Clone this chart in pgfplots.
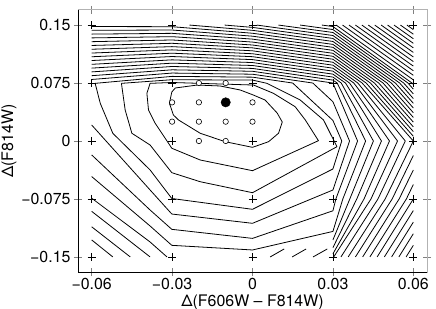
\documentclass[border=0pt]{standalone}
\usepackage{fontspec}
\setmainfont{TeX Gyre Heros}
\usepackage{pgfplots}
\pgfplotsset{compat=1.18}
\pgfplotsset{cl/.style={black, line width=0.8pt, no markers, line join=round}}
\begin{document}
\begin{tikzpicture}
\useasboundingbox (-78bp,-37bp) rectangle (358bp,272bp);
\begin{axis}[name=ax, at={(0,0)}, anchor=south west,
  scale only axis, width=349bp, height=262bp,
  xmin=-0.0651, xmax=0.0651, ymin=-0.1695, ymax=0.1695,
  scaled x ticks=false, scaled y ticks=false,
  xtick={-0.06,-0.03,0,0.03,0.06}, xticklabels={−0.06,−0.03,0,0.03,0.06},
  ytick={-0.15,-0.075,0,0.075,0.15}, yticklabels={−0.15,−0.075,0,0.075,0.15},
  tick align=center, major tick length=8bp, tick style={gray, line width=0.6pt},
  axis line style={gray!60, line width=1pt},
  ticklabel style={font=\fontsize{16}{18}\selectfont},
  label style={font=\fontsize{16}{18}\selectfont},
  xticklabel style={yshift=1bp},
  xlabel={Δ(F606W – F814W)}, ylabel={Δ(F814W)},
  xlabel style={yshift=2bp}, ylabel style={yshift=-2bp},
]
% c1
\addplot[cl] coordinates {(-0.0301,0.0634) (-0.0288,0.0686) (-0.0206,0.0724) (-0.0121,0.0712) (-0.0046,0.0660) (0.0003,0.0595) (0.0047,0.0530) (0.0092,0.0362) (0.0111,0.0246) (0.0097,0.0100) (0.0060,-0.0009) (0,-0.0082) (-0.0102,-0.0009) (-0.0195,0.0100) (-0.0276,0.0272) (-0.0295,0.0336) (-0.0310,0.0488) (-0.0301,0.0634)};
% c2
\addplot[cl] coordinates {(-0.0382,0.0746) (-0.0394,0.0617) (-0.0388,0.0401) (-0.0363,0.0229) (-0.0301,-0.0094) (-0.0195,-0.0246) (0,-0.0384) (0.0246,0.0004) (0.0197,0.0272) (0.0159,0.0444) (0.0078,0.0617) (0.0004,0.0724) (-0.03,0.0757) (-0.0382,0.0746)};
% c3
\addplot[cl] coordinates {(-0.0489,0.0746) (-0.0475,0.0401) (-0.045,0.01) (-0.0382,-0.0052) (-0.0301,-0.041) (-0.0195,-0.0527) (0,-0.0669) (0.0315,-0.0074) (0.0265,0.0272) (0.0178,0.053) (0.0054,0.0746) (0,0.0788) (-0.03,0.0793) (-0.0489,0.0746)};
% c4
\addplot[cl] coordinates {(-0.0587,0.0746) (-0.03,0.0836) (0,0.0826) (0.015,0.075) (0.03,0.0266) (0.0333,0) (0.03,-0.0362) (0,-0.0884) (-0.0301,-0.0744) (-0.0382,-0.0375) (-0.0521,0.0099) (-0.0568,0.0488) (-0.0587,0.0746)};
% c5
\addplot[cl] coordinates {(-0.06,0.0207) (-0.0382,-0.0634) (-0.0301,-0.0945) (0,-0.1065) (0.03,-0.0634) (0.0362,0) (0.03,0.0508) (0.0225,0.075) (0,0.0864) (-0.03,0.0879) (-0.06,0.0796)};
% c6
\addplot[cl] coordinates {(-0.06,-0.018) (-0.0382,-0.0893) (-0.0301,-0.1143) (0,-0.126) (0.03,-0.0903) (0.0311,-0.075) (0.0392,0) (0.03,0.075) (0,0.0902) (-0.03,0.0921) (-0.06,0.0845)};
% c7
\addplot[cl] coordinates {(-0.06,-0.046) (-0.0382,-0.11) (-0.0301,-0.135) (0,-0.141) (0.03,-0.117) (0.0337,-0.075) (0.0422,0) (0.0316,0.075) (0.03,0.0788) (0,0.0939) (-0.03,0.0964) (-0.06,0.0894)};
% c8
\addplot[cl] coordinates {(-0.06,-0.074) (-0.0382,-0.1307) (-0.0319,-0.15)};
\addplot[cl] coordinates {(0.0066,-0.15) (0.0118,-0.1397)};
\addplot[cl] coordinates {(0.03,-0.128) (0.0363,-0.075) (0.0451,0) (0.0331,0.075) (0.03,0.0827) (0,0.0977) (-0.03,0.1007) (-0.06,0.0943)};
% c9
\addplot[cl] coordinates {(-0.06,-0.091) (-0.0382,-0.15)};
\addplot[cl] coordinates {(0.0148,-0.15) (0.02,-0.1397)};
\addplot[cl] coordinates {(0.03,-0.138) (0.0389,-0.075) (0.0481,0) (0.0347,0.075) (0.03,0.0865) (0,0.1015) (-0.03,0.105) (-0.06,0.0992)};
% c10
\addplot[cl] coordinates {(-0.06,-0.111) (-0.0456,-0.15)};
\addplot[cl] coordinates {(0.0226,-0.15) (0.0279,-0.1397)};
\addplot[cl] coordinates {(0.03,-0.146) (0.0416,-0.075) (0.0511,0) (0.0362,0.075) (0.03,0.0904) (0,0.1053) (-0.03,0.1093) (-0.06,0.1041)};
% c11
\addplot[cl] coordinates {(-0.06,-0.128) (-0.0521,-0.15)};
\addplot[cl] coordinates {(0.0303,-0.15) (0.0442,-0.075) (0.0541,0) (0.0378,0.075) (0.03,0.0942) (0,0.1091) (-0.03,0.1136) (-0.06,0.109)};
% c12
\addplot[cl] coordinates {(0.033,-0.15) (0.0468,-0.075) (0.057,0) (0.0393,0.075) (0.03,0.0981) (0,0.1129) (-0.03,0.1179) (-0.06,0.1138)};
% c13
\addplot[cl] coordinates {(0.0357,-0.15) (0.0495,-0.075) (0.06,0) (0.0409,0.075) (0.03,0.1019) (0,0.1167) (-0.03,0.1221) (-0.06,0.1187)};
% c14
\addplot[cl] coordinates {(0.0384,-0.15) (0.0521,-0.075) (0.06,-0.0188)};
\addplot[cl] coordinates {(0.06,0.0061) (0.0424,0.075) (0.03,0.1058) (0,0.1205) (-0.03,0.1264) (-0.06,0.1236)};
% c15
\addplot[cl] coordinates {(0.0411,-0.15) (0.0547,-0.075) (0.06,-0.0375)};
\addplot[cl] coordinates {(0.06,0.0122) (0.044,0.075) (0.03,0.1096) (0,0.1242) (-0.03,0.1307) (-0.06,0.1285)};
% c16
\addplot[cl] coordinates {(0.0438,-0.15) (0.0574,-0.075) (0.06,-0.0563)};
\addplot[cl] coordinates {(0.06,0.0183) (0.0455,0.075) (0.03,0.1135) (0,0.128) (-0.03,0.135) (-0.06,0.1334)};
% c17
\addplot[cl] coordinates {(0.0465,-0.15) (0.06,-0.075)};
\addplot[cl] coordinates {(0.06,0.0244) (0.0471,0.075) (0.03,0.1173) (0,0.1318) (-0.03,0.1393) (-0.06,0.1383)};
% c18
\addplot[cl] coordinates {(0.0492,-0.15) (0.06,-0.09)};
\addplot[cl] coordinates {(0.06,0.0305) (0.0487,0.075) (0.03,0.1212) (0,0.1356) (-0.03,0.1436) (-0.06,0.1432)};
% c19
\addplot[cl] coordinates {(0.0519,-0.15) (0.06,-0.105)};
\addplot[cl] coordinates {(0.06,0.0366) (0.0502,0.075) (0.03,0.125) (0,0.1394) (-0.03,0.1479) (-0.06,0.1481)};
% c20
\addplot[cl] coordinates {(0.0546,-0.15) (0.06,-0.12)};
\addplot[cl] coordinates {(0.06,0.0427) (0.0518,0.075) (0.03,0.1288) (0,0.1432) (-0.0235,0.15)};
% c21
\addplot[cl] coordinates {(0.0573,-0.15) (0.06,-0.135)};
\addplot[cl] coordinates {(0.06,0.0488) (0.0533,0.075) (0.03,0.1327) (0,0.147) (-0.0104,0.15)};
% c22-c25
\addplot[cl] coordinates {(0.06,0.0549) (0.0549,0.075) (0.03,0.1365) (0.0016,0.15)};
\addplot[cl] coordinates {(0.06,0.061) (0.0564,0.075) (0.03,0.1404) (0.0097,0.15)};
\addplot[cl] coordinates {(0.06,0.0671) (0.058,0.075) (0.03,0.1442) (0.0178,0.15)};
\addplot[cl] coordinates {(0.06,0.0732) (0.0595,0.075) (0.03,0.1481) (0.0259,0.15)};
% c26-c37
\addplot[cl] coordinates {(0.0312,0.15) (0.06,0.0791)};
\addplot[cl] coordinates {(0.0336,0.15) (0.06,0.085)};
\addplot[cl] coordinates {(0.036,0.15) (0.06,0.0909)};
\addplot[cl] coordinates {(0.0384,0.15) (0.06,0.0969)};
\addplot[cl] coordinates {(0.0408,0.15) (0.06,0.1028)};
\addplot[cl] coordinates {(0.0432,0.15) (0.06,0.1087)};
\addplot[cl] coordinates {(0.0456,0.15) (0.06,0.1146)};
\addplot[cl] coordinates {(0.048,0.15) (0.06,0.1205)};
\addplot[cl] coordinates {(0.0504,0.15) (0.06,0.1264)};
\addplot[cl] coordinates {(0.0528,0.15) (0.06,0.1323)};
\addplot[cl] coordinates {(0.0552,0.15) (0.06,0.1382)};
\addplot[cl] coordinates {(0.0576,0.15) (0.06,0.1441)};
% grid crosses
\addplot[only marks, mark=+, mark size=4bp, mark options={black, line width=0.8pt}] coordinates {
(-0.06,-0.15) (-0.03,-0.15) (0,-0.15) (0.03,-0.15) (0.06,-0.15)
(-0.06,-0.075) (-0.03,-0.075) (0,-0.075) (0.03,-0.075) (0.06,-0.075)
(-0.06,0) (-0.03,0) (0,0) (0.03,0) (0.06,0)
(-0.06,0.075) (-0.03,0.075) (0,0.075) (0.03,0.075) (0.06,0.075)
(-0.06,0.15) (-0.03,0.15) (0,0.15) (0.03,0.15) (0.06,0.15)};
% fine grid circles
\addplot[only marks, mark=*, mark size=2.7bp, mark options={fill=white, draw=black, line width=0.6pt}] coordinates {
(-0.02,0.075) (-0.01,0.075)
(-0.03,0.05) (-0.02,0.05) (0,0.05)
(-0.03,0.025) (-0.02,0.025) (-0.01,0.025) (0,0.025)
(-0.02,0) (-0.01,0)};
% best fit
\addplot[only marks, mark=*, mark size=4.7bp, mark options={fill=black, draw=black}] coordinates {(-0.01,0.05)};
\end{axis}
\draw[black, line width=1pt] (ax.north west) -- (ax.south west) -- (ax.south east);
\end{tikzpicture}
\end{document}
